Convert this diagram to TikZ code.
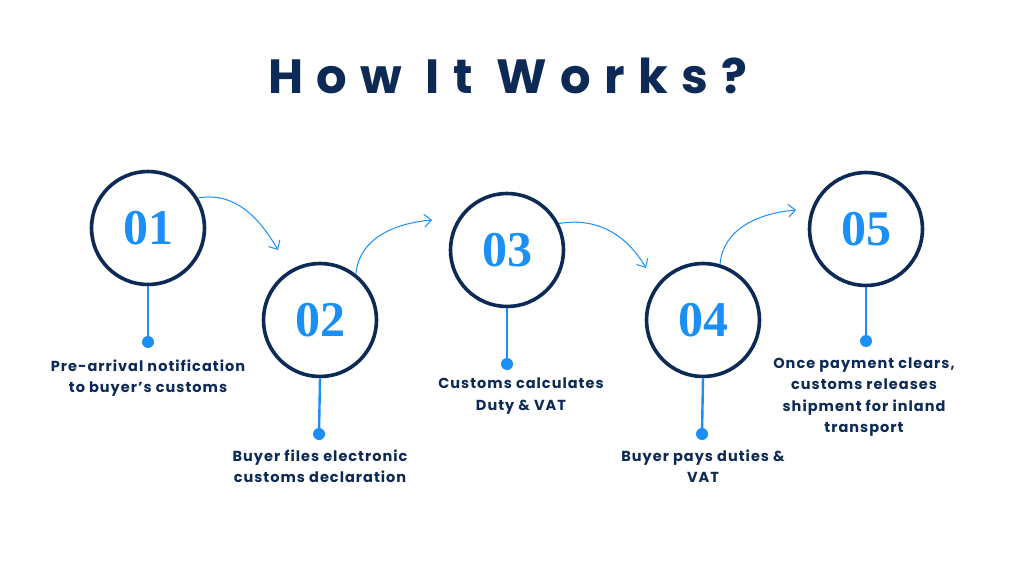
\documentclass[tikz,border=0pt]{standalone}
\usepackage{fontspec}
\usetikzlibrary{arrows.meta}
\newfontfamily\titlefont[LetterSpace=28]{Poppins}
\newfontfamily\bodyfont[LetterSpace=7]{Poppins}
\newfontfamily\numfont{Liberation Serif}
\definecolor{navy}{HTML}{0C2A55}
\definecolor{sky}{HTML}{1A8FF5}
\tikzset{
  stepcirc/.style={circle,draw=navy,line width=3.6pt,minimum size=113pt,inner sep=0pt,
    font=\numfont\bfseries\fontsize{50}{50}\selectfont,text=sky},
  dotnode/.style={circle,fill=sky,minimum size=12pt,inner sep=0pt},
  stem/.style={draw=sky,line width=2.4pt},
  flow/.style={draw=sky,line width=1pt,-{Straight Barb[length=7pt,width=13pt,line width=1pt]}},
  desc/.style={text=navy,align=center,font=\bodyfont\bfseries\fontsize{14.5}{21.5}\selectfont,inner sep=0pt}
}
\begin{document}
\begin{tikzpicture}[x=1pt,y=-1pt]
\useasboundingbox[fill=white] (0,0) rectangle (1016,561);
\node[text=navy,font=\titlefont\bfseries\fontsize{48}{48}\selectfont] (title) at (508,76) {How It Works?};

\node[stepcirc] (c1) at (148,228) {01};
\node[stepcirc] (c2) at (320,320) {02};
\node[stepcirc] (c3) at (507,250) {03};
\node[stepcirc] (c4) at (703,320) {04};
\node[stepcirc] (c5) at (866,229) {05};

\node[dotnode] (d1) at (148,342) {};
\node[dotnode] (d2) at (319,434) {};
\node[dotnode] (d3) at (507,364) {};
\node[dotnode] (d4) at (702,434) {};
\node[dotnode] (d5) at (866,341) {};

\path[stem] (c1.south) -- (d1.center);
\path[stem] (c2.south) -- (d2.center);
\path[stem] (c3.south) -- (d3.center);
\path[stem] (c4.south) -- (d4.center);
\path[stem] (c5.south) -- (d5.center);

\node[desc] (t1) at (148,378) {Pre-arrival notification\\to buyer’s customs};
\node[desc] (t2) at (320,466) {Buyer files electronic\\customs declaration};
\node[desc] (t3) at (521,396) {Customs calculates\\Duty \& VAT};
\node[desc] (t4) at (703,466) {Buyer pays duties \&\\VAT};
\node[desc] (t5) at (864,397) {Once payment clears,\\customs releases\\shipment for inland\\transport};

\coordinate (e1) at (278,250);
\coordinate (e2) at (432,220);
\coordinate (e3) at (646,268);
\coordinate (e4) at (796,210);

\path[flow] (c1.31) to[out=10,in=120] (e1);
\path[flow] (c2.52) to[out=85,in=185] (e2);
\path[flow] (c3.27) to[out=10,in=120] (e3);
\path[flow] (c4.73) to[out=85,in=185] (e4);
\end{tikzpicture}
\end{document}
